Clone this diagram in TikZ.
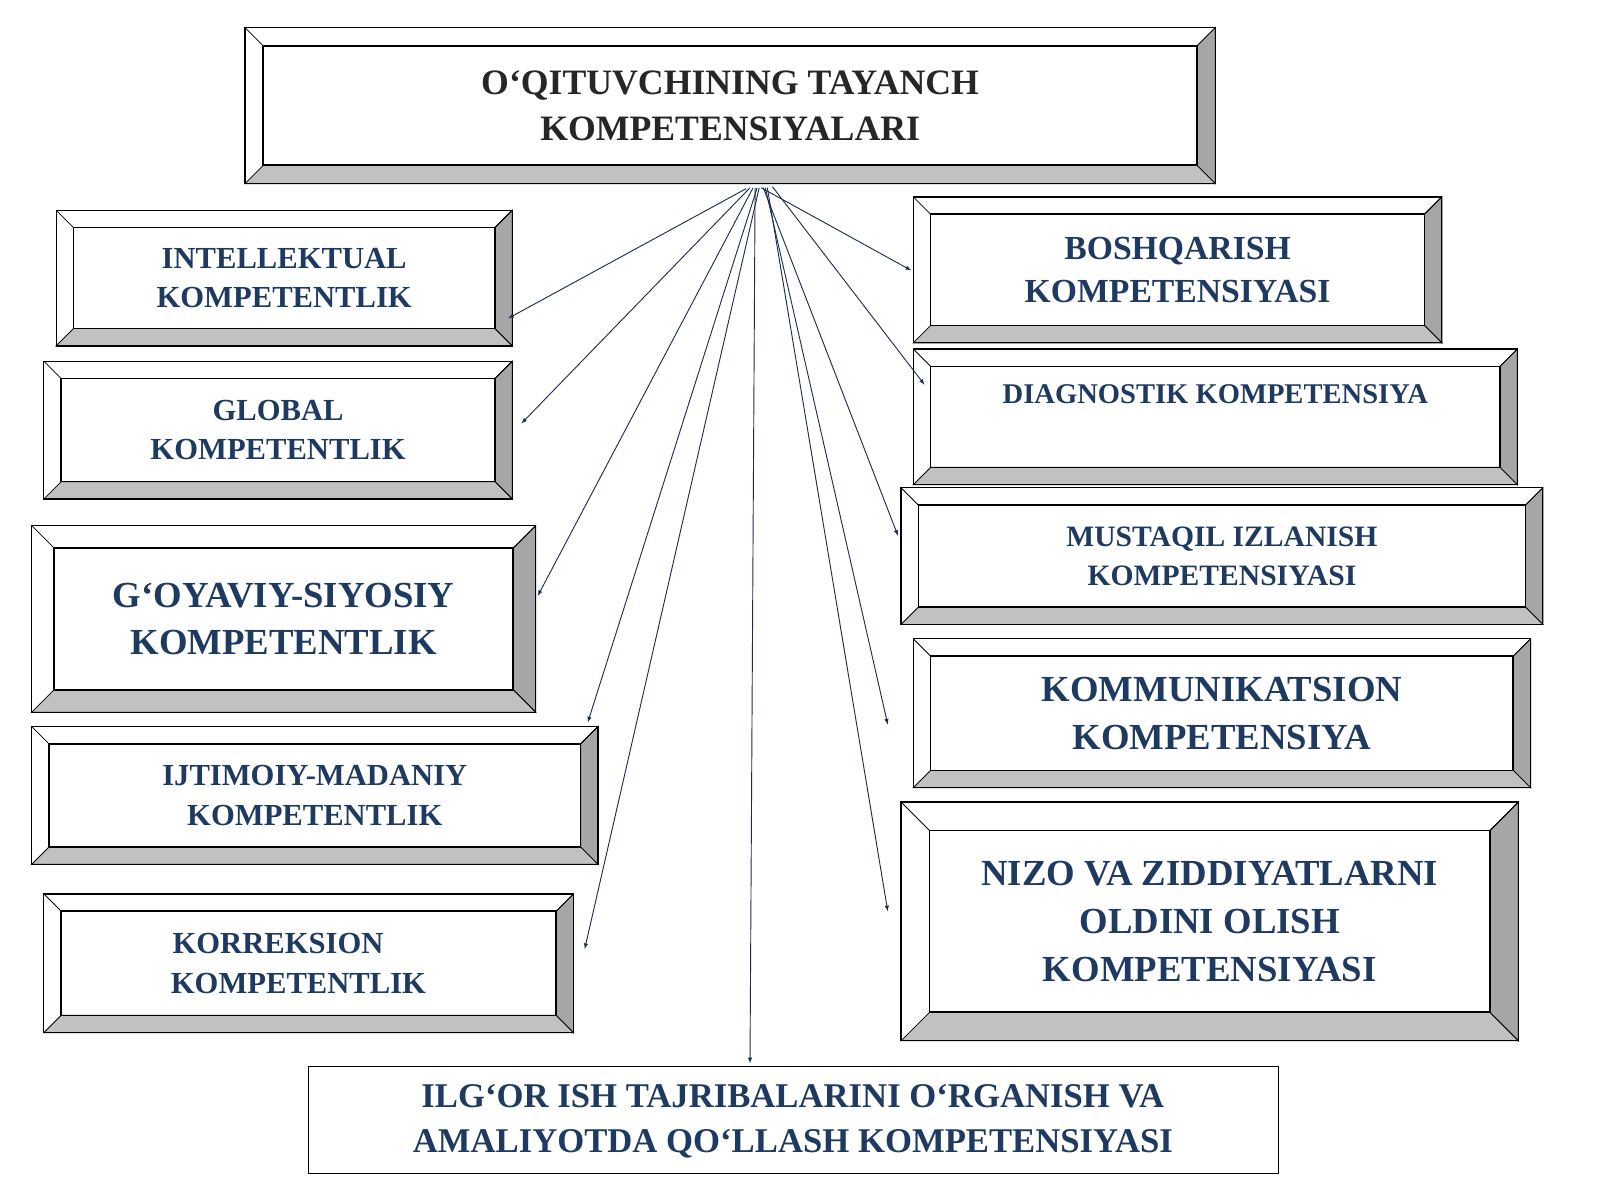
\documentclass[tikz,border=0pt]{standalone}
\usepackage{fontspec}
\setmainfont{Liberation Serif}
\definecolor{navy}{HTML}{1F3A60}
\definecolor{bev}{HTML}{A6A6A6}
\newcommand\bbox[8]{%
 \fill[white] (#1,#2) rectangle (#3,#4);
 \fill[bev,draw=black,line width=0.8pt] (#3,#2) -- (#3-#5,#2+#5) -- (#3-#5,#4-#5) -- (#3,#4) -- cycle;
 \fill[bev!70,draw=black,line width=0.8pt] (#1,#4) -- (#1+#5,#4-#5) -- (#3-#5,#4-#5) -- (#3,#4) -- cycle;
 \draw[line width=0.8pt] (#1,#2) -- (#1+#5,#2+#5) (#3,#2)--(#3-#5,#2+#5);
 \draw[line width=1.2pt] (#1,#2) rectangle (#3,#4);
 \draw[line width=1.6pt] (#1+#5,#2+#5) rectangle (#3-#5,#4-#5);
 \node[txt,font=\fontsize{#7}{1.3\dimexpr#7pt\relax}\selectfont\bfseries] (#6) at ({(#1+#3)/2},{(#2+#4)/2}) {#8};}
\begin{document}
\begin{tikzpicture}[x=1pt,y=-1pt,txt/.style={align=center,text=navy,inner sep=0pt},
 arr/.style={-latex,line width=0.9pt,draw=navy!80!black}]
\useasboundingbox (0,0) rectangle (1568,1176);
\fill[white] (0,0) rectangle (1568,1176);
\bbox{240}{27}{1191}{180}{18}{title}{35}{\textcolor{black!85}{O‘QITUVCHINING TAYANCH}\\\textcolor{black!85}{KOMPETENSIYALARI}}
\bbox{55}{206}{502}{339}{17}{intel}{30}{INTELLEKTUAL\\KOMPETENTLIK}
\bbox{43}{354}{502}{489}{17}{glob}{30}{GLOBAL\\KOMPETENTLIK}
\bbox{31}{515}{525}{698}{22}{goya}{36}{G‘OYAVIY-SIYOSIY\\KOMPETENTLIK}
\bbox{31}{712}{586}{847}{17}{ijti}{30}{IJTIMOIY-MADANIY\\KOMPETENTLIK}
\bbox{43}{876}{562}{1012}{17}{korr}{30}{\hspace*{-60pt}KORREKSION\\\hspace*{-20pt}KOMPETENTLIK}
\bbox{895}{193}{1413}{336}{17}{bosh}{33}{BOSHQARISH\\KOMPETENSIYASI}
\bbox{895}{342}{1487}{475}{17}{diag}{28}{\raisebox{45pt}{DIAGNOSTIK KOMPETENSIYA}}
\bbox{883}{478}{1512}{612}{17}{must}{29}{MUSTAQIL IZLANISH\\KOMPETENSIYASI}
\bbox{895}{626}{1500}{772}{17}{komm}{36}{KOMMUNIKATSION\\KOMPETENSIYA}
\bbox{883}{786}{1488}{1020}{28}{nizo}{36}{NIZO VA ZIDDIYATLARNI\\OLDINI OLISH\\KOMPETENSIYASI}
\draw[line width=1.2pt,fill=white] (302,1045) rectangle (1253,1150);
\node[txt,font=\fontsize{34}{44}\selectfont\bfseries] (ilg) at (777,1099) {ILG‘OR ISH TAJRIBALARINI O‘RGANISH VA\\AMALIYOTDA QO‘LLASH KOMPETENSIYASI};
\foreach \n/\x/\y in {o1/731/185,o2/735/184,o3/738/184,o4/742/184,o5/744/184,o6/740/184,o7/746/184,o8/757/183,o9/748/184,o10/750/184,o11/752/184}
 \coordinate (\n) at (\x,\y);
\foreach \n/\x/\y in {e1/498/312,e2/511/415,e3/527/584,e4/576/708,e5/573/930,e6/735/1042,e7/893/265,e8/906/377,e9/880/525,e10/870/710,e11/870/893}
 \coordinate (\n) at (\x,\y);
\foreach \i in {1,...,11} \draw[arr] (o\i) -- (e\i);
\end{tikzpicture}
\end{document}
